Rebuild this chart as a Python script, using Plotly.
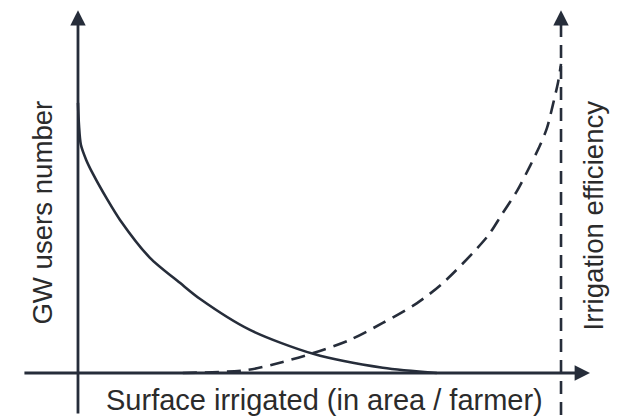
import plotly.graph_objects as go

# ---- data (conceptual curves) ----
surface_solid = [0.0, 0.02, 0.06, 0.17, 0.31, 0.60, 0.87, 1.49, 2.11, 2.53, 3.56, 4.87, 6.31, 7.43]
gw_users = [7.34, 6.74, 6.20, 5.79, 5.41, 4.73, 4.16, 3.13, 2.45, 2.01, 1.17, 0.52, 0.14, 0.0]

surface_dashed = [2.17, 3.50, 4.24, 4.87, 5.63, 6.31, 7.02, 7.56, 8.47, 8.78, 9.09, 9.36,
                  9.57, 9.71, 9.83, 9.94, 10.0]
efficiency = [0.0, 0.08, 0.30, 0.54, 0.90, 1.36, 1.90, 2.45, 3.70, 4.32, 4.95, 5.63,
              6.20, 6.66, 7.28, 7.91, 8.40]

x_label = "Surface irrigated (in area / farmer)"
y_left_label = "GW users number"
y_right_label = "Irrigation efficiency"

# ---- layout constants ----
LINE = "#262d3a"
TEXT = "#2b2b2b"
FONT = "Liberation Sans, Arial, sans-serif"
X_RANGE = [-1.449, 11.366]
Y_RANGE = [-1.495, 9.918]
AX_LEFT_X = 0.0
AX_RIGHT_X = 10.0
AX_BOTTOM = -1.14
AX_TOP = 9.86
H_START = -1.14
H_END = 10.6

fig = go.Figure()

fig.add_trace(go.Scatter(
    x=surface_solid, y=gw_users, mode="lines",
    line=dict(color=LINE, width=2.6, shape="spline", smoothing=0.8),
    hoverinfo="skip", showlegend=False))

fig.add_trace(go.Scatter(
    x=surface_dashed, y=efficiency, mode="lines",
    line=dict(color=LINE, width=2.6, shape="spline", smoothing=0.8, dash="14px,8px"),
    hoverinfo="skip", showlegend=False))

# right dashed axis line
fig.add_shape(type="line", x0=AX_RIGHT_X, x1=AX_RIGHT_X, y0=AX_BOTTOM, y1=AX_TOP - 0.3,
              xref="x", yref="y", line=dict(color=LINE, width=2.6, dash="13px,8px"))

arrow_common = dict(xref="x", yref="y", axref="x", ayref="y", text="", showarrow=True,
                    arrowhead=2, arrowsize=1.1, arrowwidth=2.8, arrowcolor=LINE, standoff=0)

annotations = [
    # left solid axis
    dict(x=AX_LEFT_X, y=AX_TOP, ax=AX_LEFT_X, ay=AX_BOTTOM, **arrow_common),
    # horizontal axis
    dict(x=H_END, y=0, ax=H_START, ay=0, **arrow_common),
    # right axis arrowhead
    dict(x=AX_RIGHT_X, y=AX_TOP, ax=AX_RIGHT_X, ay=AX_TOP - 0.45, **arrow_common),
    dict(xref="paper", yref="paper", x=0.512, y=0.0667, text=x_label, showarrow=False,
         xanchor="center", yanchor="middle", font=dict(family=FONT, size=29, color=TEXT)),
    dict(xref="paper", yref="paper", x=0.0557, y=0.514, text=y_left_label, showarrow=False,
         textangle=-90, xanchor="center", yanchor="middle",
         font=dict(family=FONT, size=27.6, color=TEXT)),
    dict(xref="paper", yref="paper", x=0.946, y=0.505, text=y_right_label, showarrow=False,
         textangle=-90, xanchor="center", yanchor="middle",
         font=dict(family=FONT, size=27.6, color=TEXT)),
]

fig.update_layout(
    width=619, height=420,
    margin=dict(l=0, r=0, t=0, b=0),
    paper_bgcolor="white", plot_bgcolor="white",
    xaxis=dict(range=X_RANGE, visible=False, fixedrange=True),
    yaxis=dict(range=Y_RANGE, visible=False, fixedrange=True),
    annotations=annotations,
    showlegend=False,
)

fig.write_html("out.html")
